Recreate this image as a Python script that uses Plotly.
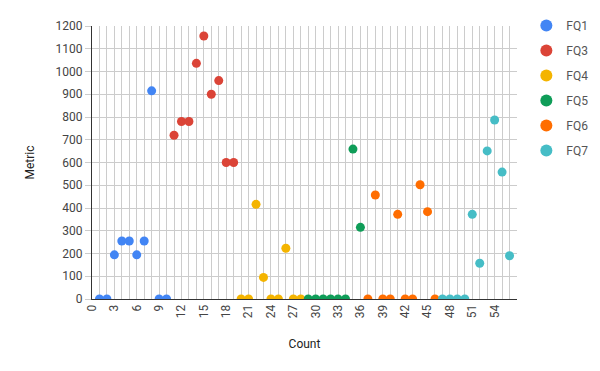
import plotly.graph_objects as go

# quarters and their (count, metric) points
series_names = ['FQ1', 'FQ3', 'FQ4', 'FQ5', 'FQ6', 'FQ7']
colors = ['#4285F4', '#DB4437', '#F4B400', '#0F9D58', '#FF6D00', '#46BDC6']

fq1_x = [1, 2, 3, 4, 5, 6, 7, 8, 9, 10]
fq1_y = [0, 0, 194, 255, 255, 194, 255, 915, 0, 0]
fq3_x = [11, 12, 13, 14, 15, 16, 17, 18, 19]
fq3_y = [720, 780, 780, 1036, 1156, 900, 960, 600, 600]
fq4_x = [20, 21, 22, 23, 24, 25, 26, 27, 28]
fq4_y = [0, 0, 416, 95, 0, 0, 223, 0, 0]
fq5_x = [29, 30, 31, 32, 33, 34, 35, 36]
fq5_y = [0, 0, 0, 0, 0, 0, 659, 315]
fq6_x = [37, 38, 39, 40, 41, 42, 43, 44, 45, 46]
fq6_y = [0, 457, 0, 0, 372, 0, 0, 502, 384, 0]
fq7_x = [47, 48, 49, 50, 51, 52, 53, 54, 55, 56]
fq7_y = [0, 0, 0, 0, 372, 157, 651, 787, 558, 190]

x_ticks = list(range(0, 55, 3))

xs = [fq1_x, fq3_x, fq4_x, fq5_x, fq6_x, fq7_x]
ys = [fq1_y, fq3_y, fq4_y, fq5_y, fq6_y, fq7_y]

fig = go.Figure()
for name, c, x, y in zip(series_names, colors, xs, ys):
    fig.add_trace(go.Scatter(x=x, y=y, mode='markers', name=name,
                             legendgroup=name,
                             marker=dict(color=c, size=9)))

# page body has an 8px margin, so the figure is a bit smaller
fig.update_layout(
    width=592, height=363,
    margin=dict(l=84, r=83, t=18, b=72, autoexpand=False),
    plot_bgcolor='white', paper_bgcolor='white',
    font=dict(family='Roboto', size=12, color='#444'),
    legend=dict(x=1.022, y=1.055, xanchor='left', yanchor='top',
                tracegroupgap=6, itemsizing='constant',
                font=dict(size=12, color='#555')),
    xaxis=dict(range=[0, 57], tickvals=x_ticks, tickangle=-90, automargin=False,
               showgrid=True, gridcolor='#cccccc', zeroline=False,
               showline=True, linecolor='#333', ticks='',
               minor=dict(dtick=1, tick0=0, showgrid=True, gridcolor='#cccccc'),
               title=dict(text='Count', font=dict(size=12, color='#222'), standoff=22)),
    yaxis=dict(range=[0, 1200], dtick=100, showgrid=True, gridcolor='#cccccc',
               zeroline=False, showline=True, linecolor='#333', automargin=False,
               ticks='outside', ticklen=6, tickcolor='#cccccc',
               title=dict(text='Metric', font=dict(size=12, color='#222'), standoff=18)),
)

fig.write_html("out.html")
